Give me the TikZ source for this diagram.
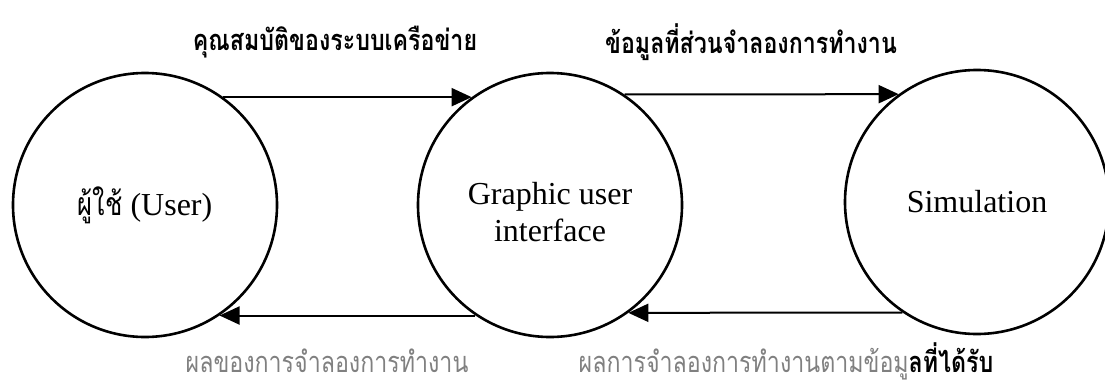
\documentclass[tikz,border=0pt]{standalone}
\usepackage{fontspec}
\setmainfont{Liberation Serif}
\newfontfamily\thaifont[Script=Thai, FakeStretch=0.8]{Loma}
\usepackage{xcolor}
\usepackage{tikz}
\usetikzlibrary{arrows.meta, positioning}
\definecolor{labelgray}{HTML}{808080}

\begin{document}
\begin{tikzpicture}[x=1pt, y=-1pt,
    proc/.style={draw, circle, line width=2.6pt, minimum size=264pt,
      inner sep=0pt, align=center, font=\fontsize{32}{37}\selectfont},
    flow/.style={-{Triangle[length=20pt, width=18pt]}, line width=2pt},
    toplbl/.style={inner sep=0pt, font=\thaifont\bfseries\fontsize{29}{30}\selectfont},
    botlbl/.style={inner sep=0pt, font=\thaifont\fontsize{29}{30}\selectfont, text=labelgray}]
  \useasboundingbox (0,0) rectangle (1105,386);
  % Processes
  \node[proc] (user) at (145,205) {{\thaifont ผู้ใช้} (User)};
  \node[proc] (gui) at (550,205)
    {\raisebox{-11pt}[\height][\depth]{\begin{tabular}{@{}c@{}}Graphic user\\interface\end{tabular}}};
  \node[proc] (sim)  at (977,202) {Simulation};
  % Forward flows
  \draw[flow] (user.54) -- (gui.126);
  \draw[flow] (gui.56) -- (sim.126);
  % Return flows
  \draw[flow] (gui.236) -- (user.304);
  \draw[flow] (sim.236) -- (gui.306);
  % Flow labels
  \node[toplbl] (lblnet) at (335,42) {คุณสมบัติของระบบเครือข่าย};
  \node[toplbl] (lblin)  at (751,42) {ข้อมูลที่ส่วนจำลองการทำงาน};
  \node[botlbl] (lblres) at (327,361) {ผลของการจำลองการทำงาน};
  \node[botlbl] (lblout) at (786,361)
    {ผลการจำลองการทำงานตามข้อมู{\color{black}\bfseries ลที่ได้รับ}};
\end{tikzpicture}
\end{document}
